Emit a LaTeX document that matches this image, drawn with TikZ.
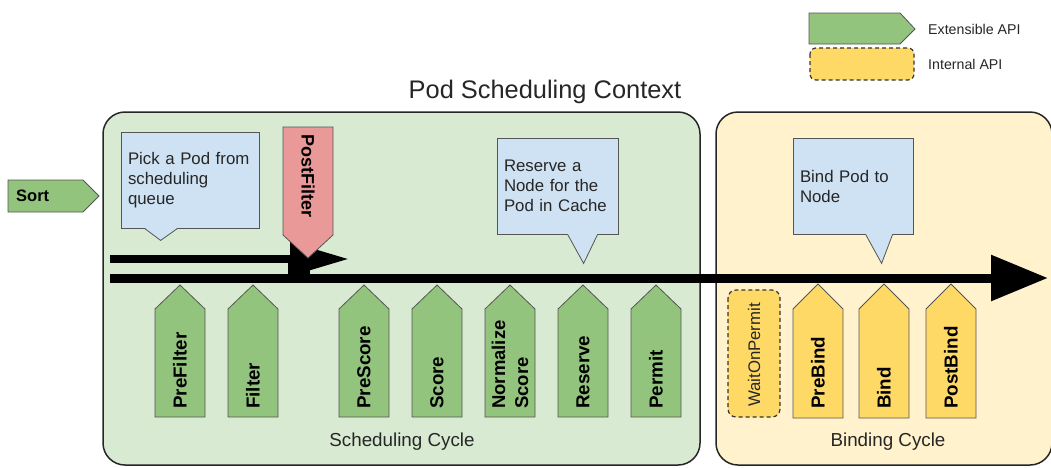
\documentclass[tikz,border=0pt]{standalone}
\usepackage{fontspec}
\setmainfont{Liberation Sans}
\usetikzlibrary{positioning}
\usetikzlibrary{arrows.meta}
\usetikzlibrary{calc}

\definecolor{apigreen}{HTML}{93C47D}
\definecolor{apiyellow}{HTML}{FFD966}
\definecolor{apired}{HTML}{EA9999}
\definecolor{schedbg}{HTML}{D9EAD3}
\definecolor{bindbg}{HTML}{FFF2CC}
\definecolor{noteblue}{HTML}{CFE2F3}
\definecolor{edgegray}{HTML}{555555}
\definecolor{textgray}{HTML}{262626}

\begin{document}
\begin{tikzpicture}[x=1pt, y=-1pt,
		tagline/.style={draw=edgegray, line width=0.8pt},
		taglabel/.style={rotate=90, anchor=west, inner sep=0pt, font=\fontsize{18.8}{22}\selectfont\bfseries},
		note/.style={draw=edgegray, fill=noteblue, line width=0.8pt, minimum height=96pt, inner xsep=7pt, align=left, text=textgray, font=\fontsize{16.8}{20}\selectfont},
		cyclebox/.style={draw=black!85, line width=1.5pt, rounded corners=22pt},
		cyclelabel/.style={text=textgray, font=\fontsize{18.8}{22}\selectfont},
		legendlabel/.style={anchor=west, inner sep=0pt, text=textgray, font=\fontsize{14.2}{16}\selectfont}]
		\useasboundingbox (0,0) rectangle (1051,467);
		
		% legend
		\filldraw[tagline, fill=apigreen] (809,13) -- (900,13) -- (915,29) -- (900,44) -- (809,44) -- cycle;
		\node[legendlabel] (extapi) at (928,29) {Extensible API};
		\filldraw[fill=apiyellow, draw=black!80, line width=1.2pt, dash pattern=on 4pt off 3pt, rounded corners=6pt] (810,48) rectangle (914,80);
		\node[legendlabel] (intapi) at (928,64) {Internal API};
		
		\node[font=\fontsize{25.4}{30}\selectfont, text=textgray] (title) at (545,92) {Pod Scheduling Context};
		
		% cycles
		\filldraw[cyclebox, fill=schedbg] (103,112) rectangle (700,465);
		\filldraw[cyclebox, fill=bindbg] (716,112) rectangle (1052,465);
		\node[cyclelabel] (schedcycle) at (402,442) {Scheduling Cycle};
		\node[cyclelabel] (bindcycle) at (888,442) {Binding Cycle};
		
		% sort
		\filldraw[tagline, fill=apigreen] (8,180) -- (83,180) -- (99,196) -- (83,212) -- (8,212) -- cycle;
		\node[anchor=west, inner sep=0pt, font=\fontsize{16.5}{18}\selectfont\bfseries] (sort) at (16,196) {Sort};
		
		% notes
		\node[note, text width=124pt] (pick) at (190,180) {Pick a Pod from\\scheduling\\queue};
		\fill[noteblue] ($(pick.south west)+(24,-0.6)$) -- ($(pick.south west)+(40,12)$) -- ($(pick.south west)+(57,-0.6)$) -- cycle;
		\draw[tagline] ($(pick.south west)+(24,0)$) -- ($(pick.south west)+(40,12)$) -- ($(pick.south west)+(57,0)$);
		
		\node[note, text width=107pt] (reservenote) at (557.5,186) {Reserve a\\Node for the\\Pod in Cache};
		\fill[noteblue] ($(reservenote.south west)+(71,-0.6)$) -- ($(reservenote.south west)+(87,29)$) -- ($(reservenote.south west)+(101,-0.6)$) -- cycle;
		\draw[tagline] ($(reservenote.south west)+(71,0)$) -- ($(reservenote.south west)+(87,29)$) -- ($(reservenote.south west)+(101,0)$);
		
		\node[note, text width=106pt] (bindnote) at (853,186) {Bind Pod to\\Node};
		\fill[noteblue] ($(bindnote.south west)+(73,-0.6)$) -- ($(bindnote.south west)+(89,29)$) -- ($(bindnote.south west)+(100,-0.6)$) -- cycle;
		\draw[tagline] ($(bindnote.south west)+(73,0)$) -- ($(bindnote.south west)+(89,29)$) -- ($(bindnote.south west)+(100,0)$);
		
		% flow
		\coordinate (retrystart) at (110,259);
		\coordinate (retryend) at (349,259);
		\coordinate (flowstart) at (110,278);
		\coordinate (flowend) at (1048,278);
		\draw[line width=8pt, -{Triangle[length=59pt,width=32pt]}] (retrystart) -- (retryend);
		\fill (288,259) rectangle (310,278);
		\draw[line width=9pt, -{Triangle[length=57pt,width=44pt]}] (flowstart) -- (flowend);
		
		% postfilter
		\filldraw[tagline, fill=apired] (283,127) -- (333,127) -- (333,235) -- (308,258) -- (283,235) -- cycle;
		\node[taglabel, rotate=-180, font=\fontsize{18}{22}\selectfont\bfseries] (postfilter) at (308,134) {PostFilter};
		
		% scheduling plugins
		\filldraw[tagline, fill=apigreen] (155,417) -- (155,309) -- (180,285) -- (205,309) -- (205,417) -- cycle;
		\node[taglabel] (prefilter) at (180,409) {PreFilter};
		\filldraw[tagline, fill=apigreen] (228,417) -- (228,309) -- (253,285) -- (278,309) -- (278,417) -- cycle;
		\node[taglabel] (filter) at (253,409) {Filter};
		\filldraw[tagline, fill=apigreen] (339,417) -- (339,309) -- (364,285) -- (389,309) -- (389,417) -- cycle;
		\node[taglabel] (prescore) at (364,409) {PreScore};
		\filldraw[tagline, fill=apigreen] (412,417) -- (412,309) -- (437,285) -- (462,309) -- (462,417) -- cycle;
		\node[taglabel] (score) at (437,409) {Score};
		\filldraw[tagline, fill=apigreen] (485,417) -- (485,309) -- (510,285) -- (535,309) -- (535,417) -- cycle;
		\node[taglabel, align=left, font=\fontsize{18.5}{23}\selectfont\bfseries] (normscore) at (510,409) {Normalize\\Score};
		\filldraw[tagline, fill=apigreen] (558,417) -- (558,309) -- (583,285) -- (608,309) -- (608,417) -- cycle;
		\node[taglabel] (reserve) at (583,409) {Reserve};
		\filldraw[tagline, fill=apigreen] (631,417) -- (631,309) -- (656,285) -- (681,309) -- (681,417) -- cycle;
		\node[taglabel] (permit) at (656,409) {Permit};
		
		% binding plugins
		\filldraw[fill=apiyellow, draw=black!80, line width=1.2pt, dash pattern=on 4pt off 3pt, rounded corners=8pt] (728,290) rectangle (780,417);
		\node[rotate=90, inner sep=0pt, font=\fontsize{16.8}{20}\selectfont, text=textgray] (waitpermit) at (754,355) {WaitOnPermit};
		\filldraw[tagline, fill=apiyellow] (793,418) -- (793,309) -- (818,284) -- (843,309) -- (843,418) -- cycle;
		\node[taglabel] (prebind) at (818,409) {PreBind};
		\filldraw[tagline, fill=apiyellow] (859,418) -- (859,309) -- (884,284) -- (909,309) -- (909,418) -- cycle;
		\node[taglabel] (bind) at (884,409) {Bind};
		\filldraw[tagline, fill=apiyellow] (926,418) -- (926,309) -- (951,284) -- (976,309) -- (976,418) -- cycle;
		\node[taglabel] (postbind) at (951,409) {PostBind};
	\end{tikzpicture}
\end{document}
